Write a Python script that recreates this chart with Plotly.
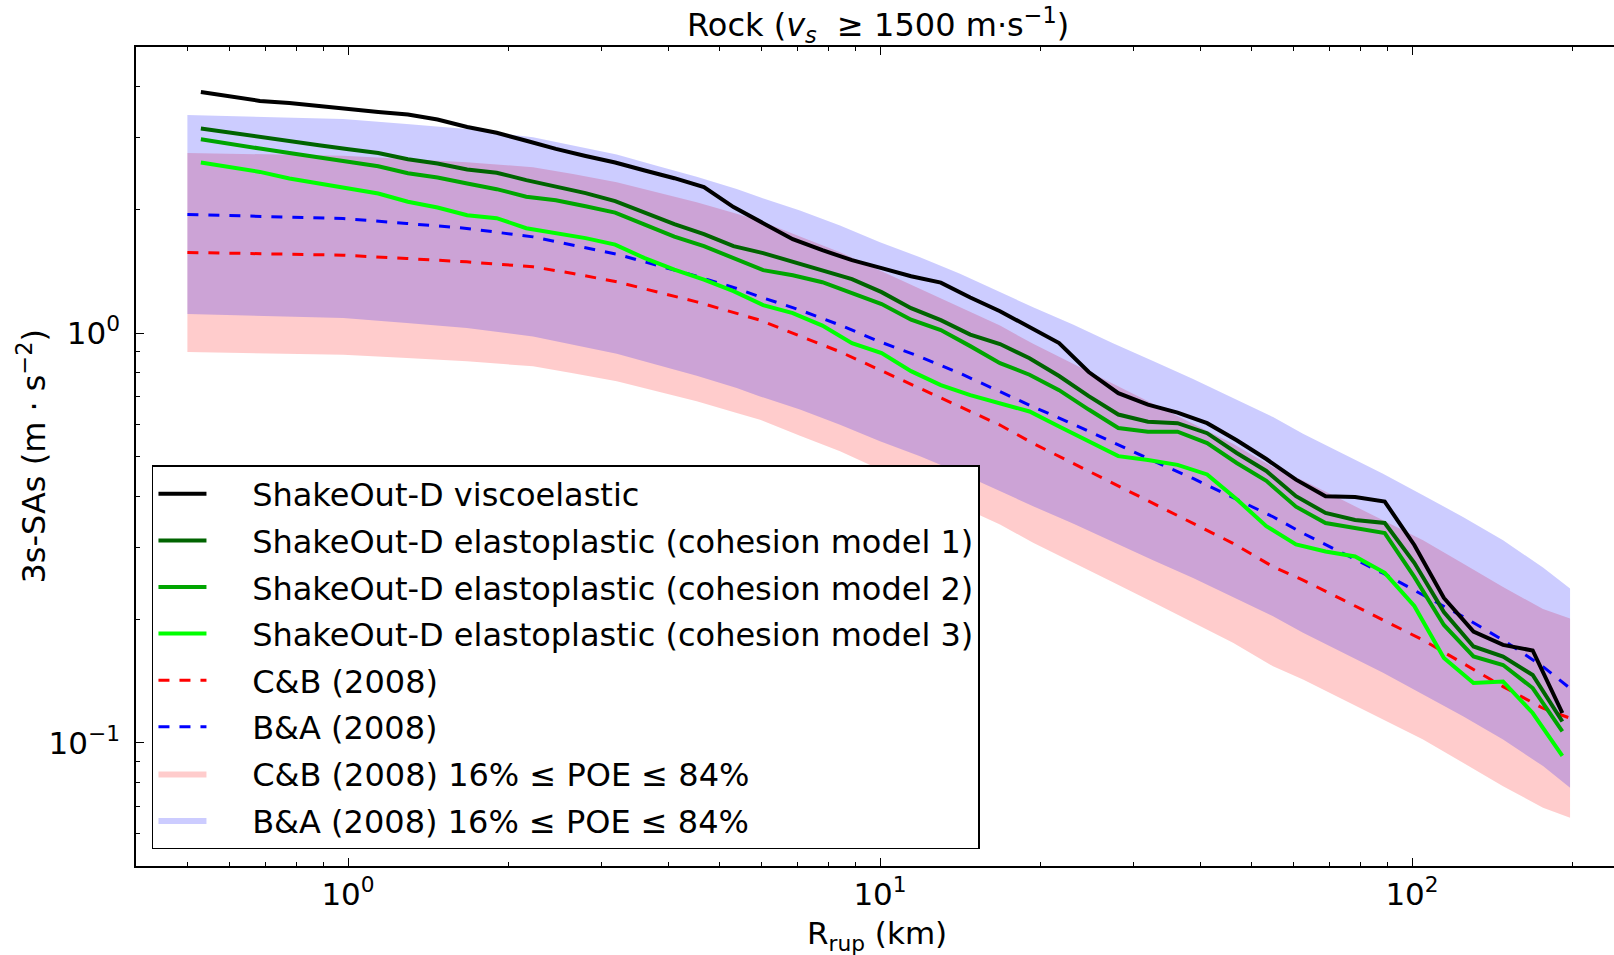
import plotly.graph_objects as go

# ---------------- data ----------------
r_sim = [0.529, 0.601, 0.683, 0.776, 0.882, 1.003, 1.140, 1.296, 1.473, 1.675, 1.903, 2.163,
         2.459, 2.796, 3.178, 3.612, 4.106, 4.667, 5.305, 6.031, 6.855, 7.792, 8.857, 10.07,
         11.44, 13.01, 14.78, 16.81, 19.10, 21.71, 24.68, 28.05, 31.89, 36.25, 41.20, 46.83,
         53.23, 60.52, 68.78, 78.17, 88.87, 101.0, 114.8, 130.5, 148.3, 168.6, 191.7]

visco = [3.882, 3.790, 3.692, 3.650, 3.583, 3.529, 3.470, 3.420, 3.325, 3.190, 3.087, 2.952,
         2.819, 2.710, 2.612, 2.497, 2.391, 2.273, 2.032, 1.857, 1.697, 1.595, 1.508, 1.442,
         1.378, 1.329, 1.222, 1.132, 1.038, 0.946, 0.804, 0.714, 0.669, 0.640, 0.603, 0.548,
         0.493, 0.439, 0.400, 0.398, 0.388, 0.304, 0.2257, 0.1867, 0.1733, 0.1680, 0.1182]

plast1 = [3.161, 3.084, 3.015, 2.944, 2.878, 2.814, 2.756, 2.660, 2.597, 2.510, 2.466, 2.365,
          2.280, 2.198, 2.101, 1.975, 1.846, 1.746, 1.632, 1.569, 1.496, 1.426, 1.355, 1.260,
          1.151, 1.076, 0.992, 0.941, 0.869, 0.786, 0.702, 0.633, 0.608, 0.603, 0.570, 0.510,
          0.461, 0.400, 0.364, 0.350, 0.344, 0.275, 0.2086, 0.1718, 0.1624, 0.1464, 0.1127]

plast2 = [2.977, 2.894, 2.825, 2.756, 2.686, 2.620, 2.557, 2.459, 2.400, 2.321, 2.248, 2.155,
          2.113, 2.043, 1.970, 1.841, 1.721, 1.632, 1.525, 1.426, 1.386, 1.332, 1.253, 1.178,
          1.079, 1.018, 0.930, 0.845, 0.792, 0.726, 0.651, 0.587, 0.575, 0.575, 0.539, 0.482,
          0.436, 0.377, 0.344, 0.334, 0.325, 0.254, 0.1939, 0.1624, 0.1548, 0.1360, 0.1066]

plast3 = [2.612, 2.539, 2.477, 2.387, 2.321, 2.257, 2.194, 2.095, 2.028, 1.942, 1.910, 1.805,
          1.756, 1.707, 1.646, 1.525, 1.430, 1.352, 1.267, 1.171, 1.120, 1.044, 0.946, 0.894,
          0.808, 0.747, 0.706, 0.675, 0.644, 0.592, 0.544, 0.501, 0.490, 0.477, 0.452, 0.393,
          0.338, 0.305, 0.293, 0.285, 0.260, 0.2157, 0.1610, 0.1399, 0.1411, 0.1182, 0.0929]

r_gmpe = [0.499, 0.745, 0.979, 1.289, 1.672, 2.227, 2.648, 3.200, 3.804, 4.523, 5.378, 5.950,
          7.072, 8.411, 10.0, 11.89, 14.14, 16.81, 19.40, 23.05, 27.41, 32.60, 38.77, 46.08,
          54.80, 62.39, 74.19, 88.22, 104.9, 124.7, 148.3, 176.3, 198.2]

cb_med = [1.575, 1.560, 1.551, 1.522, 1.494, 1.453, 1.399, 1.335, 1.262, 1.193, 1.118, 1.076,
          0.984, 0.901, 0.813, 0.733, 0.661, 0.5967, 0.5384, 0.4812, 0.4314, 0.3855, 0.3434,
          0.3069, 0.2690, 0.2496, 0.2232, 0.1994, 0.1781, 0.1563, 0.1371, 0.1214, 0.1148]
cb_p84 = [2.756, 2.730, 2.714, 2.664, 2.615, 2.543, 2.448, 2.336, 2.209, 2.088, 1.957, 1.883,
          1.722, 1.577, 1.423, 1.283, 1.157, 1.044, 0.942, 0.842, 0.755, 0.675, 0.601,
          0.537, 0.471, 0.437, 0.391, 0.349, 0.312, 0.274, 0.240, 0.212, 0.201]
cb_p16 = [0.900, 0.891, 0.886, 0.870, 0.854, 0.830, 0.799, 0.763, 0.721, 0.682, 0.639, 0.615,
          0.562, 0.515, 0.465, 0.419, 0.378, 0.341, 0.308, 0.275, 0.2465, 0.2203, 0.1962,
          0.1754, 0.1537, 0.1426, 0.1275, 0.1139, 0.1018, 0.0893, 0.0783, 0.0694, 0.0656]

ba_med = [1.950, 1.924, 1.906, 1.854, 1.803, 1.719, 1.641, 1.560, 1.466, 1.378, 1.286, 1.227,
          1.139, 1.047, 0.953, 0.876, 0.798, 0.7194, 0.6613, 0.6000, 0.5402, 0.4883, 0.4419,
          0.3974, 0.3563, 0.3246, 0.2902, 0.2593, 0.2295, 0.2032, 0.1781, 0.1534, 0.1358]
ba_p84 = [3.413, 3.367, 3.336, 3.245, 3.155, 3.008, 2.872, 2.730, 2.566, 2.412, 2.251, 2.147,
          1.993, 1.832, 1.668, 1.533, 1.397, 1.259, 1.157, 1.050, 0.945, 0.855, 0.773,
          0.695, 0.624, 0.568, 0.508, 0.454, 0.402, 0.356, 0.312, 0.268, 0.238]
ba_p16 = [1.114, 1.099, 1.089, 1.059, 1.030, 0.982, 0.938, 0.891, 0.838, 0.787, 0.735, 0.701,
          0.651, 0.598, 0.545, 0.501, 0.456, 0.411, 0.378, 0.343, 0.309, 0.279, 0.2525,
          0.2271, 0.2036, 0.1855, 0.1658, 0.1482, 0.1311, 0.1161, 0.1018, 0.0877, 0.0776]

x_major = [1, 10, 100]
x_major_text = ["10<sup>0</sup>", "10<sup>1</sup>", "10<sup>2</sup>"]
x_minor = [0.4, 0.5, 0.6, 0.7, 0.8, 0.9, 2, 3, 4, 5, 6, 7, 8, 9,
           20, 30, 40, 50, 60, 70, 80, 90, 200]
y_major = [0.1, 1]
y_major_text = ["10<sup>−1</sup>", "10<sup>0</sup>"]
y_minor = [0.05, 0.06, 0.07, 0.08, 0.09, 0.2, 0.3, 0.4, 0.5, 0.6, 0.7, 0.8, 0.9, 2, 3, 4]

FONT = "DejaVu Sans"
FS = 31
PAD = "\u00a0" * 4   # gap between legend sample and its text
DASH = "11px,10px"

fig = go.Figure()

# C&B band
fig.add_trace(go.Scatter(x=r_gmpe, y=cb_p16, mode="lines", line=dict(width=0, color="rgba(255,0,0,0)"),
                         showlegend=False, hoverinfo="skip", legendgroup="g7"))
fig.add_trace(go.Scatter(x=r_gmpe, y=cb_p84, mode="lines", line=dict(width=0, color="rgba(255,0,0,0)"),
                         fill="tonexty", fillcolor="rgba(255,0,0,0.2)", legendgroup="g7",
                         name=PAD + "C&B (2008) 16% ≤ POE ≤ 84%", legendrank=7))
# B&A band
fig.add_trace(go.Scatter(x=r_gmpe, y=ba_p16, mode="lines", line=dict(width=0, color="rgba(0,0,255,0)"),
                         showlegend=False, hoverinfo="skip", legendgroup="g8"))
fig.add_trace(go.Scatter(x=r_gmpe, y=ba_p84, mode="lines", line=dict(width=0, color="rgba(0,0,255,0)"),
                         fill="tonexty", fillcolor="rgba(0,0,255,0.2)", legendgroup="g8",
                         name=PAD + "B&A (2008) 16% ≤ POE ≤ 84%", legendrank=8))

# medians
fig.add_trace(go.Scatter(x=r_gmpe, y=cb_med, mode="lines", name=PAD + "C&B (2008)", legendrank=5,
                         legendgroup="g5", line=dict(color="#ff0000", width=3, dash=DASH)))
fig.add_trace(go.Scatter(x=r_gmpe, y=ba_med, mode="lines", name=PAD + "B&A (2008)", legendrank=6,
                         legendgroup="g6", line=dict(color="#0000ff", width=3, dash=DASH)))

# simulations
fig.add_trace(go.Scatter(x=r_sim, y=plast3, mode="lines", legendrank=4, legendgroup="g4",
                         name=PAD + "ShakeOut-D elastoplastic (cohesion model 3)",
                         line=dict(color="#00ff00", width=4)))
fig.add_trace(go.Scatter(x=r_sim, y=plast2, mode="lines", legendrank=3, legendgroup="g3",
                         name=PAD + "ShakeOut-D elastoplastic (cohesion model 2)",
                         line=dict(color="#00a500", width=4)))
fig.add_trace(go.Scatter(x=r_sim, y=plast1, mode="lines", legendrank=2, legendgroup="g2",
                         name=PAD + "ShakeOut-D elastoplastic (cohesion model 1)",
                         line=dict(color="#006400", width=4)))
fig.add_trace(go.Scatter(x=r_sim, y=visco, mode="lines", legendrank=1, legendgroup="g1",
                         name=PAD + "ShakeOut-D viscoelastic",
                         line=dict(color="#000000", width=4)))

fig.update_layout(
    width=1614, height=955,
    margin=dict(l=136, r=0, t=47, b=89),
    paper_bgcolor="white", plot_bgcolor="white",
    font=dict(family=FONT, size=FS, color="black"),
    showlegend=True,
    legend=dict(x=0.0108, y=0.4896, xanchor="left", yanchor="top",
                bgcolor="white", bordercolor="black", borderwidth=1.5,
                font=dict(family=FONT, size=32, color="black"),
                traceorder="grouped", itemwidth=48, tracegroupgap=2),
    xaxis=dict(type="log", range=[-0.3985, 2.3797], showgrid=False, zeroline=False,
               showline=True, linecolor="black", linewidth=1.5, mirror="ticks",
               ticks="inside", ticklen=8, tickwidth=1, tickcolor="black",
               tickvals=x_major, ticktext=x_major_text, ticklabelstandoff=0,
               tickfont=dict(family=FONT, size=FS),
               minor=dict(tickvals=x_minor, ticks="inside", ticklen=4, tickcolor="black", showgrid=False)),
    yaxis=dict(type="log", range=[-1.30103, 0.69897], showgrid=False, zeroline=False,
               showline=True, linecolor="black", linewidth=1.5, mirror=False,
               ticks="inside", ticklen=8, tickwidth=1, tickcolor="black",
               tickvals=y_major, ticktext=y_major_text, ticklabelstandoff=8,
               tickfont=dict(family=FONT, size=FS),
               minor=dict(tickvals=y_minor, ticks="inside", ticklen=4, tickcolor="black", showgrid=False)),
    annotations=[
        dict(text="Rock (<i>v</i><sub><i>s</i></sub>  ≥ 1500 m·s<sup>−1</sup>)", xref="paper", yref="paper",
             x=0.502, y=1.027, xanchor="center", yanchor="middle", showarrow=False,
             font=dict(family=FONT, size=32)),
        dict(text="R<sub>rup</sub> (km)", xref="paper", yref="paper",
             x=0.5015, y=-0.085, xanchor="center", yanchor="middle", showarrow=False,
             font=dict(family=FONT, size=FS)),
        dict(text="3s-SAs (m · s<sup>−2</sup>)", xref="paper", yref="paper",
             x=-0.071, y=0.5, xanchor="center", yanchor="middle", showarrow=False, textangle=-90,
             font=dict(family=FONT, size=32)),
    ],
)

fig.write_html("out.html")
